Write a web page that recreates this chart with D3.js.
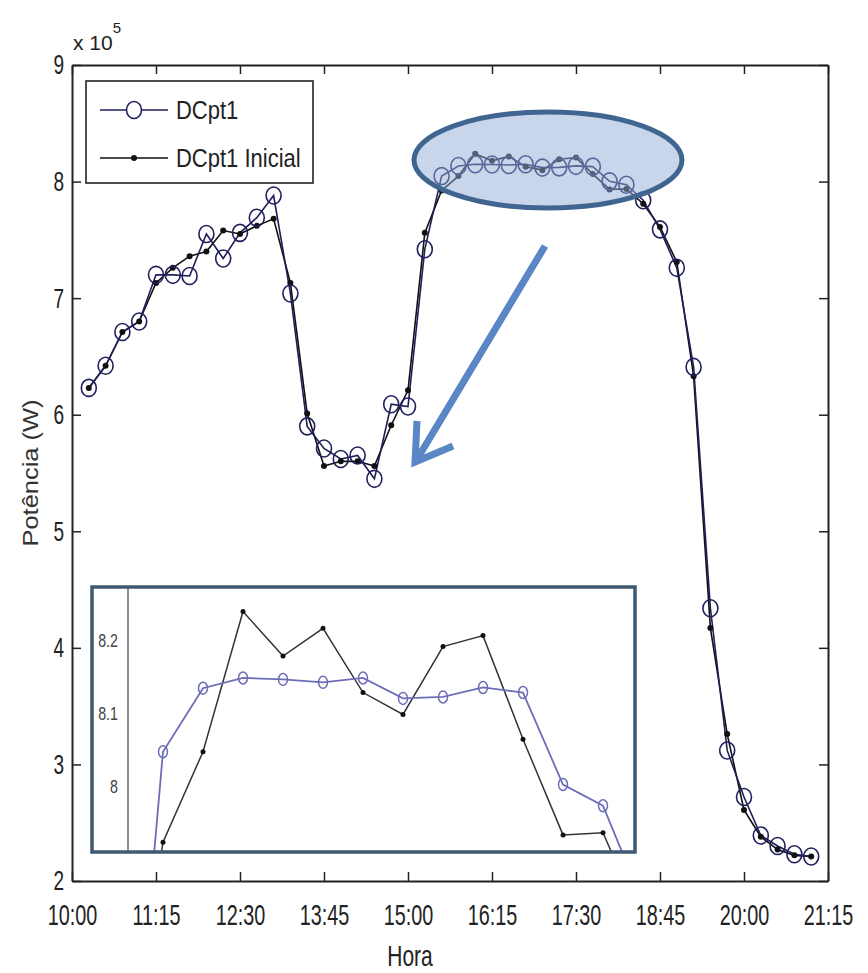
<!DOCTYPE html>
<html>
<head>
<meta charset="utf-8">
<script src="https://cdn.jsdelivr.net/npm/d3@7"></script>
<style>
  body { margin: 0; background: #ffffff; }
  svg { display: block; }
  text { font-family: "Liberation Sans", Arial, sans-serif; }
</style>
</head>
<body>
<div id="chart"></div>
<script>
// Page size and plot frame
const WIDTH = 868;
const HEIGHT = 973;
const MARGIN = { left: 72, top: 65, right: 40, bottom: 92 };

// Time of each sample (15 min steps)
const hours = [
  "10:15", "10:30", "10:45", "11:00", "11:15", "11:30", "11:45", "12:00", "12:15", "12:30", "12:45",
  "13:00", "13:15", "13:30", "13:45", "14:00", "14:15", "14:30", "14:45", "15:00", "15:15", "15:30",
  "15:45", "16:00", "16:15", "16:30", "16:45", "17:00", "17:15", "17:30", "17:45", "18:00", "18:15",
  "18:30", "18:45", "19:00", "19:15", "19:30", "19:45", "20:00", "20:15", "20:30", "20:45", "21:00"
];

// Power in units of 10^5 W
const dcpt1 = [
  6.23, 6.42, 6.71, 6.80, 7.20, 7.20, 7.19, 7.55, 7.34, 7.56, 7.69,
  7.88, 7.04, 5.90, 5.71, 5.62, 5.65, 5.45, 6.09, 6.07, 7.42, 8.047,
  8.134, 8.148, 8.146, 8.142, 8.148, 8.120, 8.122, 8.135, 8.128, 8.002, 7.973,
  7.84, 7.59, 7.26, 6.41, 4.34, 3.12, 2.72, 2.39, 2.30, 2.23, 2.21
];

const dcpt1Inicial = [
  6.23, 6.42, 6.71, 6.80, 7.13, 7.26, 7.36, 7.40, 7.58, 7.55, 7.62,
  7.68, 7.13, 6.01, 5.56, 5.60, 5.60, 5.56, 5.91, 6.21, 7.56, 7.923,
  8.047, 8.239, 8.178, 8.216, 8.128, 8.098, 8.191, 8.206, 8.064, 7.933, 7.936,
  7.81, 7.61, 7.31, 6.33, 4.17, 3.26, 2.61, 2.38, 2.27, 2.22, 2.21
];

const xTickLabels = ["10:00", "11:15", "12:30", "13:45", "15:00", "16:15", "17:30", "18:45", "20:00", "21:15"];
const yTicks = [2, 3, 4, 5, 6, 7, 8, 9];
const insetTicks = [8, 8.1, 8.2];
const seriesNames = ["DCpt1", "DCpt1 Inicial"];

const toMinutes = (s) => {
  const p = s.split(":");
  return +p[0] * 60 + +p[1];
};

// the figure uses a narrow font: squeeze each text horizontally
function squeeze(sel, f) {
  sel.each(function () {
    const t = d3.select(this);
    const x0 = +t.attr("x") || 0;
    t.attr("x", x0 / f).attr("transform", `scale(${f},1)`);
  });
}

const data = hours.map((h, i) => ({ t: toMinutes(h), a: dcpt1[i], b: dcpt1Inicial[i] }));

const svg = d3.select("#chart").append("svg")
  .attr("width", WIDTH)
  .attr("height", HEIGHT);

const x = d3.scaleLinear()
  .domain([toMinutes(xTickLabels[0]), toMinutes(xTickLabels[xTickLabels.length - 1])])
  .range([MARGIN.left, WIDTH - MARGIN.right]);
const y = d3.scaleLinear()
  .domain([2, 9])
  .range([HEIGHT - MARGIN.bottom, MARGIN.top]);

const plotH = HEIGHT - MARGIN.top - MARGIN.bottom;

// axes, matlab style: ticks inside on all four sides
const fmt = (m) => xTickLabels.find((s) => toMinutes(s) === m);
const xTickVals = xTickLabels.map(toMinutes);

const axisBottom = d3.axisBottom(x).tickValues(xTickVals).tickFormat(fmt).tickSizeInner(-9).tickSizeOuter(0).tickPadding(23);
const axisTop = d3.axisTop(x).tickValues(xTickVals).tickFormat("").tickSizeInner(-9).tickSizeOuter(0);
const axisLeft = d3.axisLeft(y).tickValues(yTicks).tickFormat(d3.format("d")).tickSizeInner(-9).tickSizeOuter(0).tickPadding(8);
const axisRight = d3.axisRight(y).tickValues(yTicks).tickFormat("").tickSizeInner(-9).tickSizeOuter(0);

const gx = svg.append("g").attr("transform", `translate(0,${HEIGHT - MARGIN.bottom})`).call(axisBottom);
svg.append("g").attr("transform", `translate(0,${MARGIN.top})`).call(axisTop);
const gy = svg.append("g").attr("transform", `translate(${MARGIN.left},0)`).call(axisLeft);
svg.append("g").attr("transform", `translate(${WIDTH - MARGIN.right},0)`).call(axisRight);

svg.selectAll(".domain").attr("stroke", "#222").attr("stroke-width", 2);
svg.selectAll(".tick line").attr("stroke", "#222").attr("stroke-width", 1.5);
gx.selectAll(".tick text").attr("font-size", 30).attr("fill", "#222").attr("font-family", "Liberation Sans, Arial, sans-serif").call(squeeze, 0.66);
gy.selectAll(".tick text").attr("font-size", 28).attr("fill", "#222").attr("font-family", "Liberation Sans, Arial, sans-serif").call(squeeze, 0.68);

// exponent label, left aligned with the axis like matlab does
const expo = svg.append("text").attr("x", 73).attr("y", 50).attr("font-size", 21).attr("fill", "#222");
expo.append("tspan").text("x 10");
expo.append("tspan").attr("dy", -17).attr("font-size", 15).text("5");

svg.append("text")
  .attr("transform", `translate(38,${MARGIN.top + plotH / 2}) rotate(-90)`)
  .attr("text-anchor", "middle")
  .attr("font-size", 22)
  .attr("fill", "#333")
  .attr("textLength", 147)
  .attr("lengthAdjust", "spacingAndGlyphs")
  .text("Potência (W)");

svg.append("text")
  .attr("x", 410)
  .attr("y", 966)
  .attr("text-anchor", "middle")
  .attr("font-size", 30)
  .attr("fill", "#222")
  .text("Hora")
  .call(squeeze, 0.7);

// main series
const lineA = d3.line().x((d) => x(d.t)).y((d) => y(d.a));
const lineB = d3.line().x((d) => x(d.t)).y((d) => y(d.b));

const main = svg.append("g");
main.append("path").datum(data).attr("d", lineB).attr("fill", "none").attr("stroke", "#111").attr("stroke-width", 1.6);
main.append("path").datum(data).attr("d", lineA).attr("fill", "none").attr("stroke", "#1e1e5a").attr("stroke-width", 1.6);
main.selectAll(".dotB").data(data).enter().append("circle")
  .attr("cx", (d) => x(d.t)).attr("cy", (d) => y(d.b)).attr("r", 3).attr("fill", "#111");
main.selectAll(".ringA").data(data).enter().append("ellipse")
  .attr("cx", (d) => x(d.t)).attr("cy", (d) => y(d.a)).attr("rx", 7.5).attr("ry", 8.5)
  .attr("fill", "none").attr("stroke", "#20205e").attr("stroke-width", 1.6);

// legend
const legend = svg.append("g").attr("transform", "translate(86,81)");
legend.append("rect").attr("width", 227).attr("height", 102).attr("fill", "#fff").attr("stroke", "#222").attr("stroke-width", 1.6);
seriesNames.forEach((name, i) => {
  const ly = 29 + i * 48;
  legend.append("line").attr("x1", 14).attr("x2", 82).attr("y1", ly).attr("y2", ly)
    .attr("stroke", i === 0 ? "#1e1e5a" : "#111").attr("stroke-width", 1.6);
  if (i === 0) {
    legend.append("ellipse").attr("cx", 48).attr("cy", ly).attr("rx", 7.5).attr("ry", 8.5)
      .attr("fill", "#fff").attr("stroke", "#20205e").attr("stroke-width", 1.6);
  } else {
    legend.append("circle").attr("cx", 48).attr("cy", ly).attr("r", 3).attr("fill", "#111");
  }
  legend.append("text").attr("x", 90).attr("y", ly).attr("dy", "0.36em")
    .attr("font-size", 25).attr("fill", "#222").text(name).call(squeeze, 0.88);
});

// highlight ellipse over the peak
svg.append("ellipse")
  .attr("cx", 548).attr("cy", 160).attr("rx", 134).attr("ry", 48)
  .attr("fill", "#91abd5").attr("fill-opacity", 0.5)
  .attr("stroke", "#3f6590").attr("stroke-width", 5);

// arrow pointing to the zoomed view
svg.append("path")
  .attr("d", "M545,246 L416,461 M417,421 L415,462 L453,446")
  .attr("fill", "none")
  .attr("stroke", "#5b86c6")
  .attr("stroke-width", 7)
  .attr("stroke-linejoin", "miter");

// inset with the peak zoomed in
const INSET = { x0: 92, y0: 587, x1: 635, y1: 852 };
const ix = d3.scaleLinear().domain([toMinutes("15:30"), toMinutes("18:15")]).range([163, 603]);
const iy = d3.scaleLinear().domain([8.0, 8.2]).range([786, 640]);

svg.append("clipPath").attr("id", "insetClip").append("rect")
  .attr("x", INSET.x0).attr("y", INSET.y0).attr("width", INSET.x1 - INSET.x0).attr("height", INSET.y1 - INSET.y0);

const inset = svg.append("g");
inset.append("rect")
  .attr("x", INSET.x0).attr("y", INSET.y0).attr("width", INSET.x1 - INSET.x0).attr("height", INSET.y1 - INSET.y0)
  .attr("fill", "#fff");

const insetAxis = d3.axisLeft(iy).tickValues(insetTicks).tickFormat((d) => d === 8 ? "8" : d3.format(".1f")(d)).tickSize(0).tickPadding(10);
const gi = inset.append("g").attr("transform", "translate(128,0)").call(insetAxis);
gi.select(".domain").remove();
gi.selectAll(".tick text").attr("font-size", 19).attr("fill", "#444").attr("font-family", "Liberation Sans, Arial, sans-serif").call(squeeze, 0.75);
inset.append("line").attr("x1", 128).attr("x2", 128).attr("y1", INSET.y0).attr("y2", INSET.y1)
  .attr("stroke", "#666").attr("stroke-width", 1.5);

const ilineA = d3.line().x((d) => ix(d.t)).y((d) => iy(d.a));
const ilineB = d3.line().x((d) => ix(d.t)).y((d) => iy(d.b));
const ig = inset.append("g").attr("clip-path", "url(#insetClip)");
ig.append("path").datum(data).attr("d", ilineB).attr("fill", "none").attr("stroke", "#333").attr("stroke-width", 1.5);
ig.append("path").datum(data).attr("d", ilineA).attr("fill", "none").attr("stroke", "#6d6db8").attr("stroke-width", 1.8);
ig.selectAll(".idotB").data(data).enter().append("circle")
  .attr("cx", (d) => ix(d.t)).attr("cy", (d) => iy(d.b)).attr("r", 2.5).attr("fill", "#111");
ig.selectAll(".iringA").data(data).enter().append("ellipse")
  .attr("cx", (d) => ix(d.t)).attr("cy", (d) => iy(d.a)).attr("rx", 4.5).attr("ry", 6)
  .attr("fill", "none").attr("stroke", "#6d6db8").attr("stroke-width", 1.5);

inset.append("rect")
  .attr("x", INSET.x0).attr("y", INSET.y0).attr("width", INSET.x1 - INSET.x0).attr("height", INSET.y1 - INSET.y0)
  .attr("fill", "none").attr("stroke", "#3e5970").attr("stroke-width", 3.5);
</script>
</body>
</html>
